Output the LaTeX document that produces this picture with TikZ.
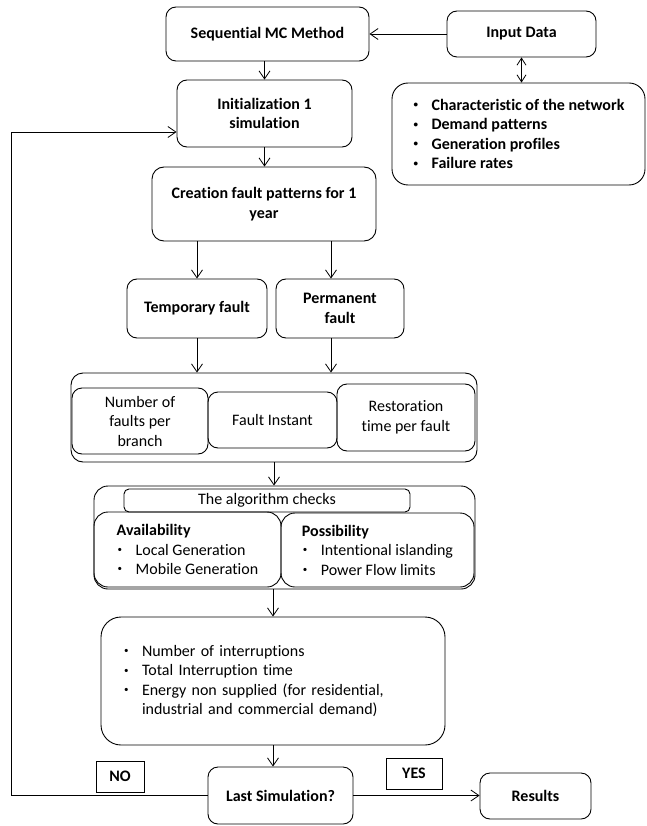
\documentclass[tikz,border=0pt]{standalone}
\usepackage{fontspec}
\setmainfont{Carlito}[Ligatures=NoCommon]
\usetikzlibrary{arrows.meta}

\newcommand{\bul}{\makebox[19pt][l]{\hspace{1pt}\raisebox{0.35ex}{\fontsize{9}{9}\selectfont\textbullet}}}

\begin{document}
\begin{tikzpicture}[x=1pt, y=-1pt, >={Straight Barb[length=8pt,width=11pt]},
    every node/.style={font=\fontsize{16}{19.5}\selectfont},
    box/.style={draw, line width=0.9pt, rounded corners=10pt, align=center, inner sep=0pt},
    bbox/.style={box, font=\fontsize{16}{19.5}\selectfont\bfseries},
    tag/.style={draw, line width=0.9pt, inner sep=0pt, font=\fontsize{16}{19.5}\selectfont\bfseries},
    flow/.style={->, line width=0.8pt}]
    \useasboundingbox (0,0) rectangle (646,826);

    \node[bbox, minimum width=203pt, minimum height=54pt] (seq) at (267.5,34) {Sequential MC Method};
    \node[bbox, minimum width=149pt, minimum height=46pt] (input) at (521.5,34) {Input Data};
    \node[bbox, align=left, minimum width=253pt, minimum height=102pt, rounded corners=16pt] (data) at (518.5,134)
        {\bul Characteristic of the network\\\bul Demand patterns\\\bul Generation profiles\\\bul Failure rates};
    \node[bbox, minimum width=175pt, minimum height=67pt] (init) at (264.5,113.5) {Initialization 1\\simulation};
    \node[bbox, minimum width=224pt, minimum height=74pt, rounded corners=12pt] (creation) at (264,204) {Creation fault patterns for 1\\year};
    \node[bbox, minimum width=140pt, minimum height=59pt] (temp) at (197,308.5) {Temporary fault};
    \node[bbox, minimum width=128pt, minimum height=59pt] (perm) at (340,308.5) {Permanent\\fault};

    \node[box, minimum width=406pt, minimum height=89pt, rounded corners=12pt] (faults) at (274,417.5) {};
    \node[box, minimum width=136pt, minimum height=66pt] (nfault) at (140,421) {Number of\\faults per\\branch};
    \node[box, minimum width=129pt, minimum height=56pt] (instant) at (272.5,420) {Fault Instant};
    \node[box, minimum width=138pt, minimum height=67pt] (restore) at (406,417.5) {Restoration\\time per fault};

    \node[box, minimum width=381pt, minimum height=103pt, rounded corners=14pt] (checks) at (284.5,537.5) {};
    \node[box, minimum width=286pt, minimum height=23pt, rounded corners=5pt] (head) at (267,500.5) {The algorithm checks};
    \node[box, align=left, minimum width=187pt, minimum height=75pt, rounded corners=14pt] (avail) at (187.5,549.5)
        {\textbf{Availability}\\\bul Local Generation\\\bul Mobile Generation};
    \node[box, align=left, minimum width=193pt, minimum height=74pt, rounded corners=14pt] (possib) at (377.5,550)
        {\textbf{Possibility}\\\bul Intentional islanding\\\bul Power Flow limits};

    \node[box, align=left, text width=300pt, inner xsep=22pt, minimum height=128pt, rounded corners=20pt] (metrics) at (273,681)
        {\bul Number of interruptions\\\bul Total Interruption time\\\bul Energy non supplied (for residential,\\\hspace*{19pt}industrial and commercial demand)};

    \node[bbox, minimum width=145pt, minimum height=57pt] (last) at (280.5,795.5) {Last Simulation?};
    \node[bbox, minimum width=111pt, minimum height=46pt] (results) at (535.5,796) {Results};
    \node[tag, minimum width=48pt, minimum height=31pt] (no) at (120,776.5) {NO};
    \node[tag, minimum width=56pt, minimum height=31pt] (yes) at (414,773.5) {YES};

    \coordinate (ptop) at ([xshift=-9pt]perm.north);
    \coordinate (pbot) at ([xshift=-9pt]perm.south);
    \coordinate (lb) at (11,795.5);
    \coordinate (lt) at (11,132);

    \draw[flow] (input) -- (seq);
    \draw[<->, line width=0.8pt, >={Straight Barb[length=7pt,width=9pt]}] (input.south) -- (input.south |- data.north);
    \draw[flow] (init.north |- seq.south) -- (init.north);
    \draw[flow] (init.south) -- (init.south |- creation.north);
    \draw[flow] (temp.north |- creation.south) -- (temp.north);
    \draw[flow] (ptop |- creation.south) -- (ptop);
    \draw[flow] (temp.south) -- (temp.south |- faults.north);
    \draw[flow] (pbot) -- (pbot |- faults.north);
    \draw[flow] (faults.south) -- (faults.south |- checks.north);
    \draw[flow] (metrics.north |- checks.south) -- (metrics.north);
    \draw[flow] (metrics.south) -- (metrics.south |- last.north);
    \draw[flow] (last.east) -- (last.east -| results.west);
    \draw[flow] (last.west) -- (last.west -| lb) -- (lt) -- (lt -| init.west);
\end{tikzpicture}
\end{document}
